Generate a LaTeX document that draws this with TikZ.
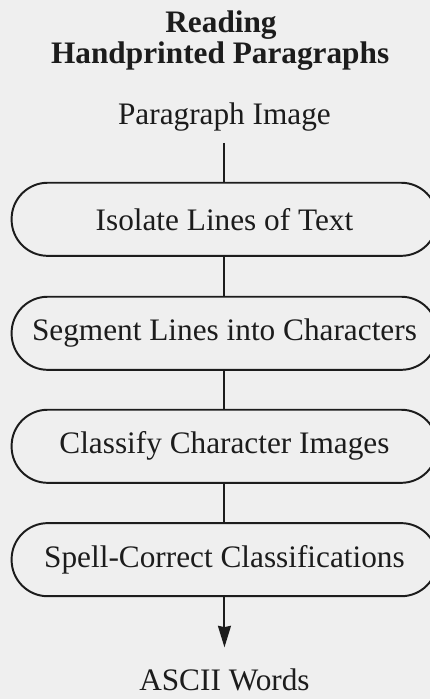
\documentclass[tikz,border=0pt]{standalone}
\usepackage{fontspec}
\setmainfont{Liberation Serif}
\usetikzlibrary{arrows.meta}
\definecolor{paper}{HTML}{EFEFEF}
\definecolor{ink}{HTML}{1C1C1C}

\begin{document}
\begin{tikzpicture}[transform shape,
	stage/.style={shape=rectangle, draw=ink, line width=1.3pt, rounded corners=0.84cm, minimum width=9.9cm, minimum height=1.7cm, text=ink, font=\fontsize{20.7}{24}\selectfont},
	io/.style={anchor=base, inner sep=0.27cm, text=ink, font=\fontsize{20.7}{24}\selectfont},
	wire/.style={draw=ink, line width=1.3pt}]
	% Paper and page size:
	\fill[paper] (0, 0) rectangle (10, 16.256);
	\useasboundingbox (0, 0) rectangle (10, 16.256);
	% Title:
	\node[io, font=\bfseries\fontsize{20.7}{24}\selectfont] (T1) at (5.14, 15.51){Reading};
	\node[io, font=\bfseries\fontsize{20.7}{24}\selectfont] (T2) at (5.12, 14.79){Handprinted Paragraphs};
	% Input, stages and output:
	\node[io] (In) at (5.22, 13.365){Paragraph Image};
	\node[stage] (S1) at (5.22, 11.156){Isolate Lines of Text};
	\node[stage] (S2) at (5.22, 8.505){Segment Lines into Characters};
	\node[stage] (S3) at (5.22, 5.877){Classify Character Images};
	\node[stage] (S4) at (5.22, 3.240){Spell-Correct Classifications};
	\node[io] (Out) at (5.22, 0.209){ASCII Words};
	% Wires:
	\draw[wire] (In.south) -- (S1.north);
	\draw[wire] (S1.south) -- (S2.north);
	\draw[wire] (S2.south) -- (S3.north);
	\draw[wire] (S3.south) -- (S4.north);
	\draw[wire, -{Stealth[length=0.5cm, width=0.3cm, inset=0.03cm]}, shorten >=0.21cm] (S4.south) -- (Out.north);
\end{tikzpicture}
\end{document}
